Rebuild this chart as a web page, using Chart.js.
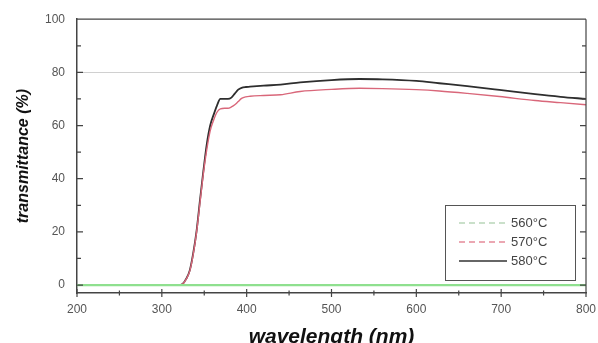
<!DOCTYPE html>
<html>
<head>
<meta charset="utf-8">
<script src="https://cdn.jsdelivr.net/npm/chart.js@4/dist/chart.umd.min.js"></script>
<style>
  html, body { margin: 0; padding: 0; background: #fff; }
  canvas { display: block; }
</style>
</head>
<body>
<canvas id="chart" width="598" height="343"></canvas>
<script>
// wavelength (nm) sampled along the curves
const wavelengths = [200, 300, 320, 324, 329, 333, 337, 341, 345, 349, 353, 357, 361, 365, 369, 374, 378, 382, 386, 390, 394, 399, 404, 420, 440, 463, 500, 533, 560, 600, 627, 660, 698, 740, 770, 800];

// transmittance (%) per annealing temperature
const t560 = [0, 0, 0, 0, 0, 0, 0, 0, 0, 0, 0, 0, 0, 0, 0, 0, 0, 0, 0, 0, 0, 0, 0, 0, 0, 0, 0, 0, 0, 0, 0, 0, 0, 0, 0, 0];
const t570 = [0, 0, 0, 0.3, 2.3, 5.3, 11.5, 20, 31, 42, 51, 58, 62, 65, 66.3, 66.5, 66.5, 67, 67.8, 69, 70.2, 70.8, 71, 71.3, 71.6, 72.8, 73.6, 74.0, 73.9, 73.5, 73.0, 72.1, 70.9, 69.4, 68.6, 67.8];
const t580 = [0, 0, 0, 0.3, 2.5, 5.6, 12, 20.5, 32, 43, 53, 60, 64, 67.5, 70, 70, 70, 70.5, 72, 73.5, 74.2, 74.5, 74.6, 75, 75.4, 76.2, 77.1, 77.5, 77.4, 76.8, 75.9, 74.8, 73.4, 71.8, 70.8, 70.0];

const seriesLabels = ["560°C", "570°C", "580°C"];
const xTickLabels = [200, 300, 400, 500, 600, 700, 800];
const xMinorTicks = [250, 350, 450, 550, 650, 750];
const yTickLabels = [0, 20, 40, 60, 80, 100];
const yMinorTicks = [10, 30, 50, 70, 90];

const toPoints = vals => wavelengths.map((w, i) => ({ x: w, y: vals[i] }));

// ticks drawn inside the frame, plus the boxed legend in the lower right
const framePlugin = {
  id: "frame",
  afterDraw(chart) {
    const { ctx, chartArea: a, scales } = chart;
    const xs = scales.x, ys = scales.y;
    ctx.save();
    ctx.strokeStyle = "#444";
    ctx.lineWidth = 1.2;
    ctx.beginPath();
    ctx.moveTo(a.left, a.top); ctx.lineTo(a.right, a.top);
    ctx.moveTo(a.right, a.top); ctx.lineTo(a.right, a.bottom);
    yTickLabels.concat(yMinorTicks).forEach(v => {
      const y = ys.getPixelForValue(v);
      const len = yTickLabels.includes(v) ? 6 : 4;
      ctx.moveTo(a.left, y); ctx.lineTo(a.left + len, y);
      ctx.moveTo(a.right, y); ctx.lineTo(a.right - len, y);
    });
    xTickLabels.concat(xMinorTicks).forEach(v => {
      const x = xs.getPixelForValue(v);
      const len = xTickLabels.includes(v) ? 4 : 2.5;
      ctx.moveTo(x, a.bottom - len); ctx.lineTo(x, a.bottom + len);
    });
    ctx.stroke();

    // legend
    const bx = a.right - 141, by = a.bottom - 88, bw = 130, bh = 75;
    ctx.fillStyle = "#fff";
    ctx.fillRect(bx, by, bw, bh);
    ctx.strokeStyle = "#555";
    ctx.lineWidth = 1;
    ctx.strokeRect(bx + 0.5, by + 0.5, bw, bh);
    const dashes = [[6, 4], [6, 4], []];
    const legendColors = ["#b9d6b9", "#e58a99", "#333"];
    ctx.font = "13px 'Liberation Sans', Arial, sans-serif";
    ctx.textBaseline = "middle";
    chart.data.datasets.forEach((ds, i) => {
      const y = by + 18 + i * 19;
      ctx.setLineDash(dashes[i]);
      ctx.strokeStyle = legendColors[i];
      ctx.lineWidth = 1.6;
      ctx.beginPath();
      ctx.moveTo(bx + 14, y); ctx.lineTo(bx + 62, y);
      ctx.stroke();
      ctx.setLineDash([]);
      ctx.fillStyle = "#444";
      ctx.fillText(ds.label, bx + 66, y);
    });
    ctx.restore();
  }
};

new Chart(document.getElementById("chart"), {
  type: "line",
  data: {
    datasets: [
      { label: seriesLabels[0], data: toPoints(t560), borderColor: "#8fe08f", borderWidth: 2.2 },
      { label: seriesLabels[1], data: toPoints(t570), borderColor: "#d9677a", borderWidth: 1.4 },
      { label: seriesLabels[2], data: toPoints(t580), borderColor: "#2e2e2e", borderWidth: 1.8 }
    ]
  },
  options: {
    responsive: false,
    animation: false,
    layout: { padding: { top: 16, right: 12, left: 0, bottom: 0 } },
    elements: {
      point: { radius: 0 },
      line: { cubicInterpolationMode: "monotone", fill: false }
    },
    plugins: { legend: { display: false }, tooltip: { enabled: false } },
    scales: {
      x: {
        type: "linear",
        min: 200,
        max: 800,
        afterBuildTicks: s => { s.ticks = xTickLabels.map(v => ({ value: v })); },
        afterFit: s => { s.height = 50; s.paddingLeft = 0; s.paddingRight = 0; },
        grid: { display: false, drawTicks: false },
        border: { display: true, color: "#444", width: 1.5 },
        ticks: {
          padding: 9,
          color: "#555",
          font: { family: "'Liberation Sans', Arial, sans-serif", size: 12 }
        },
        title: {
          display: true,
          text: "wavelength (nm)",
          color: "#111",
          font: { family: "'Liberation Sans', Arial, sans-serif", size: 21, style: "italic", weight: "bold" },
          padding: { top: 0, bottom: -7 }
        }
      },
      y: {
        min: -3,
        max: 100,
        afterBuildTicks: s => { s.ticks = yTickLabels.map(v => ({ value: v })); },
        afterFit: s => { s.width = 77; },
        grid: {
          drawTicks: false,
          color: c => (c.tick && c.tick.value === 80 ? "#d0d0d0" : "rgba(0,0,0,0)")
        },
        border: { display: true, color: "#444", width: 1.5 },
        ticks: {
          padding: 12,
          color: "#555",
          font: { family: "'Liberation Sans', Arial, sans-serif", size: 12 }
        },
        title: {
          display: true,
          text: "transmittance (%)",
          color: "#111",
          font: { family: "'Liberation Sans', Arial, sans-serif", size: 16, style: "italic", weight: "bold" },
          padding: { top: 14, bottom: 0 }
        }
      }
    }
  },
  plugins: [framePlugin]
});
</script>
</body>
</html>
